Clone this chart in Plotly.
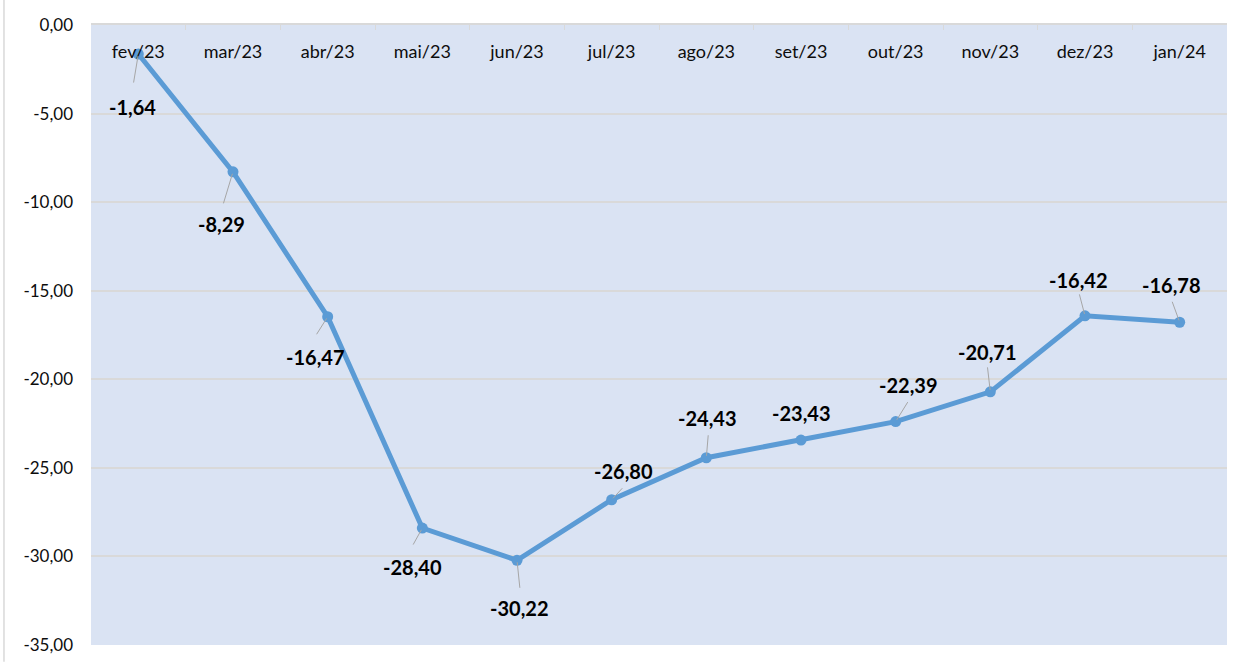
import plotly.graph_objects as go

categories = ["fev/23", "mar/23", "abr/23", "mai/23", "jun/23", "jul/23",
              "ago/23", "set/23", "out/23", "nov/23", "dez/23", "jan/24"]
values = [-1.64, -8.29, -16.47, -28.40, -30.22, -26.80,
          -24.43, -23.43, -22.39, -20.71, -16.42, -16.78]
y_ticks = [0, -5, -10, -15, -20, -25, -30, -35]

# label placement (pixel offsets from point: dx, dy screen-down)
label_off = [(-6, 53), (-12, 52), (-12, 40), (-10, 39), (2, 48), (12, -29),
             (1, -40), (0, -27), (13, -37), (-3, -40), (-7, -36), (-8, -37)]
leader_off = [(-5, 30), (-10, 33), (-12, 19), (-10, 18), (3, 29), (12, -13),
              (2, -24), None, (13, -21), (-3, -26), (-6, -23), (-8, -22)]

def fmt(v):
    return f"{v:.2f}".replace(".", ",")

FONT = "Lato"
TICK_COLOR = "#0d0d0d"
fig = go.Figure()
fig.add_trace(go.Scatter(
    x=categories, y=values, mode="lines+markers",
    line=dict(color="#5B9BD5", width=5),
    marker=dict(color="#5B9BD5", size=11),
    cliponaxis=False, hoverinfo="skip"))
# invisible helper trace so the label axis (x2) is drawn
fig.add_trace(go.Scatter(
    x=categories, y=values, xaxis="x2", mode="lines",
    line=dict(width=0, color="rgba(0,0,0,0)"), opacity=0,
    hoverinfo="skip", showlegend=False))

annotations = []
for c, v, lo, ld in zip(categories, values, label_off, leader_off):
    if ld is not None:
        annotations.append(dict(
            x=c, y=v, xref="x", yref="y", text="", showarrow=True,
            arrowhead=0, arrowwidth=1, arrowcolor="#A6A6A6",
            axref="pixel", ayref="pixel", ax=ld[0], ay=ld[1], standoff=2))
    annotations.append(dict(
        x=c, y=v, xref="x", yref="y", text=fmt(v), showarrow=False,
        xshift=lo[0], yshift=-lo[1],
        font=dict(family=FONT, size=20, color="#000000", weight="bold")))

fig.update_layout(
    width=1237, height=663,
    margin=dict(l=91, r=10, t=25, b=18),
    paper_bgcolor="white", plot_bgcolor="#DAE3F3",
    separators=",.",
    showlegend=False,
    font=dict(family=FONT, size=18, color=TICK_COLOR),
    annotations=annotations,
    shapes=[dict(type="line", xref="paper", yref="paper",
                 x0=-0.0766, x1=-0.0766, y0=1.05, y1=-0.027,
                 line=dict(color="#D9D9D9", width=1.5))],
    xaxis=dict(
        side="top", type="category", showticklabels=False,
        ticks="inside", tickson="boundaries", ticklen=5, tickcolor="#D9D9D9",
        showline=True, linecolor="#D9D9D9", linewidth=1.5,
        showgrid=False, automargin=False,
        range=[-0.5, 11.5], fixedrange=True),
    xaxis2=dict(
        overlaying="x", anchor="free", position=0.978, side="bottom",
        type="category", range=[-0.5, 11.5],
        ticks="", showline=False, showgrid=False, zeroline=False,
        automargin=False,
        tickfont=dict(family=FONT, size=18, color=TICK_COLOR),
        fixedrange=True),
    yaxis=dict(
        range=[-35, 0], tickvals=y_ticks, ticktext=[fmt(t) for t in y_ticks],
        showgrid=True, gridcolor="#D9D9D9", gridwidth=1.5,
        zeroline=False, showline=False, ticks="",
        ticklabelstandoff=17, automargin=False,
        tickfont=dict(family=FONT, size=17, color=TICK_COLOR),
        fixedrange=True),
)

fig.write_html("out.html", config={"displayModeBar": False},
               post_script="document.body.style.margin='0px';")
